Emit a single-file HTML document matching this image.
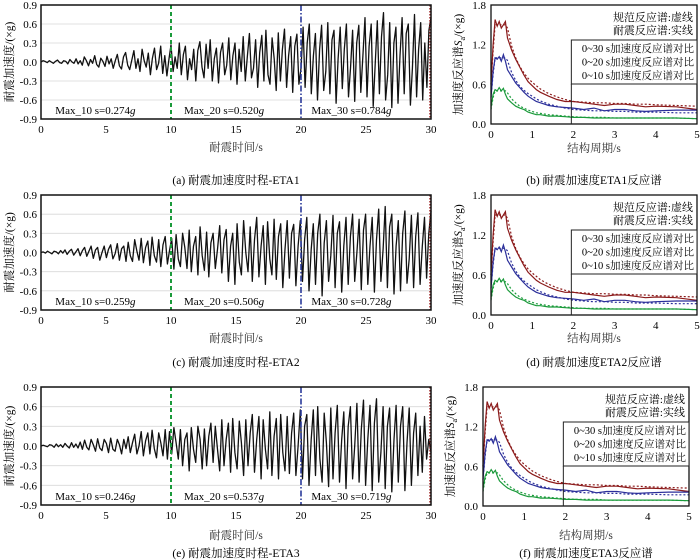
<!DOCTYPE html>
<html><head><meta charset="utf-8">
<style>
body{margin:0;background:#fff;}
svg{display:block;font-family:"Liberation Serif","Noto Serif CJK SC",serif;}
</style></head>
<body>
<svg id="fig" width="700" height="560" viewBox="0 0 700 560" xmlns="http://www.w3.org/2000/svg"></svg>
<script>
// ---------- data ----------
const timeTicks = [0,5,10,15,20,25,30];
const accTicks = [-0.9,-0.6,-0.3,0.0,0.3,0.6,0.9];
const periodTicks = [0,1,2,3,4,5];
const saTicks = [0.0,0.6,1.2,1.8];
const acc1 = [0,0.02,0.01,-0.01,0.02,0.0,-0.02,0.01,0.03,-0.01,-0.02,0.02,0.01,-0.03,0.04,0.0,-0.02,0.05,-0.03,0.02,
-0.05,0.08,0.02,-0.06,0.04,-0.02,0.1,-0.04,-0.08,0.06,0.01,-0.07,0.09,-0.03,0.05,-0.1,0.02,0.12,-0.06,-0.11,
0.08,0.15,-0.05,-0.12,0.03,0.18,-0.1,0.05,-0.15,0.2,0.02,-0.08,0.14,-0.2,0.06,0.22,-0.12,-0.02,0.25,-0.18,
0.1,-0.22,0.04,0.27,-0.15,0.08,-0.1,0.3,-0.2,0.12,0.25,-0.28,0.05,-0.12,0.2,-0.3,0.18,0.32,-0.08,-0.25,
0.28,-0.1,0.35,-0.3,0.05,0.22,-0.33,0.15,0.3,-0.2,-0.05,0.38,-0.28,0.1,0.3,-0.35,0.2,-0.15,0.4,-0.3,
0.08,0.45,-0.25,-0.1,0.35,-0.4,0.15,0.42,-0.3,0.5,-0.2,-0.35,0.38,0.05,-0.45,0.46,-0.3,0.2,0.52,-0.4,
0.1,0.4,-0.48,0.25,0.44,-0.35,-0.1,0.55,-0.4,0.3,0.6,-0.5,0.1,0.45,-0.6,0.2,0.58,-0.45,-0.15,0.62,
-0.5,0.35,0.5,-0.65,0.05,0.55,-0.42,0.2,0.6,-0.55,-0.1,0.5,-0.62,0.3,0.58,-0.48,0.1,0.7,-0.55,0.25,
0.6,-0.7,0.0,0.65,-0.5,0.4,0.78,-0.6,-0.2,0.62,-0.72,0.3,0.55,-0.65,0.1,0.7,-0.5,0.45,0.6,-0.68,
-0.1,0.75,-0.55,0.2,0.62,-0.6,0.3,-0.4,0.5,0.7];
const acc2 = [0,0.01,-0.01,0.02,0.0,-0.02,0.02,0.01,-0.02,0.03,-0.01,0.04,-0.03,0.02,0.05,-0.04,0.01,0.06,-0.05,0.03,
0.08,-0.06,0.02,0.1,-0.09,0.04,0.08,-0.12,0.0,0.1,-0.08,0.05,0.12,-0.1,-0.02,0.14,-0.12,0.06,0.1,-0.14,
0.16,-0.05,-0.14,0.2,0.02,-0.12,0.22,-0.16,0.08,0.18,-0.2,0.24,-0.05,-0.15,0.2,-0.22,0.12,0.25,-0.18,0.03,
0.22,-0.26,0.28,-0.1,-0.22,0.3,0.08,-0.25,0.35,-0.3,0.1,0.25,-0.35,0.4,-0.05,-0.28,0.32,-0.38,0.15,0.3,
-0.25,0.05,0.42,-0.32,0.2,0.36,-0.45,0.1,0.3,-0.5,0.45,-0.15,-0.35,0.5,0.0,-0.3,0.4,-0.45,0.2,0.55,
-0.38,0.1,0.42,-0.5,0.48,-0.1,-0.35,0.52,-0.42,0.25,0.45,-0.55,0.05,0.5,-0.4,0.3,0.44,-0.52,0.1,0.5,
-0.45,0.2,0.55,-0.6,0.05,0.45,-0.5,0.3,0.6,-0.68,0.15,0.5,-0.45,-0.05,0.58,-0.55,0.3,0.48,-0.62,0.1,
0.55,-0.5,0.25,0.6,-0.45,0.0,0.52,-0.58,0.35,0.6,-0.5,0.1,0.55,-0.62,0.2,0.68,-0.45,0.05,0.72,-0.55,
0.4,0.6,-0.65,0.1,0.5,-0.6,0.3,0.65,-0.48,-0.1,0.58,-0.55,0.25,0.62,-0.5,0.1,0.55,-0.4,0.3,0.65];
const acc3 = [0,0.01,0.0,-0.01,0.02,0.01,-0.02,0.03,-0.01,0.02,-0.02,0.04,0.0,-0.03,0.05,-0.02,0.03,-0.03,0.06,-0.05,
0.09,-0.02,-0.06,0.1,0.02,-0.08,0.11,-0.03,-0.07,0.1,0.04,-0.1,0.12,-0.05,-0.08,0.1,0.02,-0.12,0.1,-0.04,
0.14,-0.1,0.05,0.18,-0.12,0.0,0.22,-0.15,0.08,0.2,-0.12,0.24,-0.04,-0.18,0.2,0.05,-0.15,0.25,-0.2,0.22,
-0.12,0.28,0.05,-0.2,0.25,-0.3,0.1,0.2,-0.38,0.28,-0.05,-0.25,0.3,0.1,-0.35,0.26,-0.3,0.15,0.35,-0.25,
0.3,-0.05,-0.38,0.4,-0.3,0.1,0.35,-0.4,0.42,-0.1,-0.35,0.38,0.05,-0.45,0.4,-0.3,0.2,0.48,-0.4,0.1,
0.45,-0.5,0.4,-0.05,-0.35,0.52,-0.45,0.15,0.42,-0.5,0.48,-0.1,-0.38,0.45,-0.42,0.2,0.5,-0.45,0.0,0.55,
-0.5,0.3,0.48,-0.6,0.1,0.55,-0.45,0.6,-0.2,-0.55,0.5,0.05,-0.62,0.58,-0.5,0.2,0.62,-0.55,0.1,0.52,
-0.65,0.3,0.6,-0.5,0.0,0.65,-0.55,0.25,0.7,-0.6,0.1,0.62,-0.68,0.35,0.72,-0.55,-0.1,0.6,-0.65,0.3,
0.58,-0.7,0.1,0.62,-0.55,0.3,0.6,-0.68,0.05,0.58,-0.6,0.2,0.5,-0.45,0.3,-0.4,0.45,-0.2,0.1,-0.1];
const periods = [0,0.05,0.1,0.15,0.2,0.25,0.3,0.35,0.4,0.5,0.6,0.7,0.8,0.9,1.0,1.1,1.2,1.4,1.6,1.8,2.0,2.25,2.5,2.75,3.0,3.25,3.5,3.75,4.0,4.5,5.0];
const sa30 = [0.6,1.2,1.58,1.48,1.55,1.45,1.5,1.55,1.3,1.12,0.98,0.86,0.74,0.64,0.58,0.52,0.48,0.42,0.37,0.34,0.34,0.32,0.3,0.28,0.3,0.3,0.28,0.26,0.27,0.26,0.22];
const sa20 = [0.4,0.8,1.0,0.98,1.02,0.95,1.05,0.95,0.82,0.72,0.62,0.55,0.48,0.42,0.38,0.34,0.32,0.28,0.26,0.25,0.24,0.22,0.24,0.2,0.22,0.22,0.2,0.19,0.2,0.21,0.21];
const sa10 = [0.25,0.45,0.52,0.5,0.55,0.5,0.54,0.45,0.38,0.32,0.27,0.24,0.22,0.18,0.16,0.14,0.14,0.12,0.12,0.11,0.1,0.1,0.09,0.09,0.09,0.09,0.09,0.09,0.09,0.09,0.08];
const code30 = [0.6,1.1,1.5,1.5,1.5,1.5,1.5,1.5,1.45,1.18,1.0,0.87,0.77,0.69,0.63,0.58,0.53,0.46,0.41,0.37,0.34,0.33,0.32,0.32,0.31,0.31,0.3,0.3,0.29,0.28,0.27];
const code20 = [0.4,0.75,1.0,1.0,1.0,1.0,1.0,1.0,0.96,0.78,0.66,0.57,0.51,0.46,0.42,0.38,0.35,0.3,0.27,0.24,0.22,0.21,0.2,0.2,0.19,0.19,0.18,0.18,0.18,0.17,0.17];
const code10 = [0.22,0.4,0.5,0.5,0.5,0.5,0.5,0.5,0.47,0.38,0.32,0.27,0.24,0.21,0.19,0.17,0.16,0.14,0.13,0.12,0.11,0.1,0.1,0.1,0.09,0.09,0.09,0.09,0.09,0.09,0.08];
const maxLabels = [["0.274","0.520","0.784"],["0.259","0.506","0.728"],["0.246","0.537","0.719"]];
const captionsLeft = ["(a) 耐震加速度时程-ETA1","(c) 耐震加速度时程-ETA2","(e) 耐震加速度时程-ETA3"];
const captionsRight = ["(b) 耐震加速度ETA1反应谱","(d) 耐震加速度ETA2反应谱","(f) 耐震加速度ETA3反应谱"];
const accSeries = [acc1,acc2,acc3];

// ---------- drawing ----------
const NS="http://www.w3.org/2000/svg";
const svg=document.getElementById('fig');
function mk(tag,attrs,parent,text){const e=document.createElementNS(NS,tag);for(const k in attrs)e.setAttribute(k,attrs[k]);if(text!==undefined)e.textContent=text;(parent||svg).appendChild(e);return e;}

const leftRows=[{t:5,b:119,xl:147,cap:180},{t:195,b:310,xl:338,cap:362},{t:387,b:505,xl:535,cap:553}];
const rightRows=[{l:491,r:697,t:5,b:124,xl:148,cap:180},{l:491,r:697,t:195,b:315,xl:338,cap:362},{l:483,r:689,t:387,b:506,xl:535,cap:553}];

leftRows.forEach((R,ri)=>{
  const g=mk('g',{});
  
  
  const L=41,Rr=431;
  const x=t=>L+(t/30)*(Rr-L);
  const y=v=>R.t+(0.9-v)/1.8*(R.b-R.t);
  accTicks.forEach(v=>{
    if(Math.abs(v)<0.89){const gl=mk('line',{x1:L,x2:Rr,y1:y(v),y2:y(v),stroke:'#d8d8d8','stroke-width':0.8},g);}
    const tl=mk('text',{x:L-4,y:y(v)+4,'text-anchor':'end','font-size':11},g,v.toFixed(1));
    
  });
  timeTicks.forEach(v=>{
    const tl=mk('text',{x:x(v),y:R.b+14,'text-anchor':'middle','font-size':11},g,String(v));
    
  });
  const d=accSeries[ri];
  const pts=d.map((v,i)=>x(i*30/(d.length-1)).toFixed(1)+','+y(v).toFixed(1)).join(' ');
  const pl=mk('polyline',{points:pts,fill:'none',stroke:'#111','stroke-width':1.3,'stroke-linejoin':'round'},g);
  
  const v1=mk('line',{x1:x(10),x2:x(10),y1:R.t,y2:R.b,stroke:'#1a9a3a','stroke-width':2,'stroke-dasharray':'4,3'},g);
  
  const v2=mk('line',{x1:x(20),x2:x(20),y1:R.t,y2:R.b,stroke:'#2a3a9a','stroke-width':1.6,'stroke-dasharray':'6,2,1.5,2'},g);
  
  const v3=mk('line',{x1:x(30)-1,x2:x(30)-1,y1:R.t,y2:R.b,stroke:'#9a1a1a','stroke-width':1.4,'stroke-dasharray':'1.5,1.5'},g);
  
  const fr=mk('rect',{x:L,y:R.t,width:Rr-L,height:R.b-R.t,fill:'none',stroke:'#111','stroke-width':1.5},g);
  
  [[1.1,'10'],[11,'20'],[20.8,'30']].forEach((p,k)=>{
    const tx=mk('text',{x:x(p[0]),y:R.b-5,'font-size':11},g);
    
    tx.textContent='Max_'+p[1]+' s='+maxLabels[ri][k];
    mk('tspan',{'font-style':'italic'},tx,'g');
  });
  const yl=mk('text',{x:0,y:0,'font-size':11.5,'text-anchor':'middle',transform:`translate(13,${(R.t+R.b)/2}) rotate(-90)`},g,'耐震加速度/(×g)');
  
  const xl=mk('text',{x:(L+Rr)/2,y:R.xl+4,'text-anchor':'middle','font-size':11.5,fill:'#333'},g,'耐震时间/s');
  
  const cp=mk('text',{x:(L+Rr)/2,y:R.cap+4,'text-anchor':'middle','font-size':11.5},g,captionsLeft[ri]);
  
});

rightRows.forEach((R,ri)=>{
  const g=mk('g',{});
  
  
  const x=t=>R.l+(t/5)*(R.r-R.l);
  const y=v=>R.b-(v/1.8)*(R.b-R.t);
  saTicks.forEach(v=>{
    const tl=mk('text',{x:R.l-5,y:y(v)+4,'text-anchor':'end','font-size':11},g,v.toFixed(1));
    
  });
  periodTicks.forEach(v=>{
    const tl=mk('text',{x:x(v),y:R.b+14,'text-anchor':'middle','font-size':11},g,String(v));
    
  });
  const cols=['#8b1a1a','#2b2f9a','#1a9a3a'];
  const codes=[code30,code20,code10];
  const sas=[sa30,sa20,sa10];
  const names=['30s','20s','10s'];
  [0,1,2].forEach(k=>{
    const cd=codes[k].map((v,i)=>x(periods[i]).toFixed(1)+','+y(v).toFixed(1)).join(' ');
    const c=mk('polyline',{points:cd,fill:'none',stroke:cols[k],'stroke-width':1.2,'stroke-dasharray':'2,2'},g);
    
    const sd=sas[k].map((v,i)=>x(periods[i]).toFixed(1)+','+y(v).toFixed(1)).join(' ');
    const l=mk('polyline',{points:sd,fill:'none',stroke:cols[k],'stroke-width':1.2},g);
    
  });
  const fr=mk('rect',{x:R.l,y:R.t,width:R.r-R.l,height:R.b-R.t,fill:'none',stroke:'#111','stroke-width':1.3},g);
  
  const lt=R.t+5;
  const t1=mk('text',{x:R.r-4,y:lt+11,'text-anchor':'end','font-size':11},g,'规范反应谱:虚线');
  
  const t2=mk('text',{x:R.r-4,y:lt+24,'text-anchor':'end','font-size':11},g,'耐震反应谱:实线');
  
  const bx=x(1.95),by=lt+30,bh=44;
  const lb=mk('rect',{x:bx,y:by,width:R.r-bx,height:bh,fill:'#fff',stroke:'#222','stroke-width':1},g);
  
  const vl=mk('line',{x1:bx,x2:bx,y1:by+bh,y2:R.b,stroke:'#222','stroke-width':1},g);
  
  ['0~30 s加速度反应谱对比','0~20 s加速度反应谱对比','0~10 s加速度反应谱对比'].forEach((s,k)=>{
    const e=mk('text',{x:R.r-3,y:by+12+k*13.5,'text-anchor':'end','font-size':10.5},g,s);
    
  });
  const yl=mk('text',{x:0,y:0,'font-size':11.5,'text-anchor':'middle',transform:`translate(${R.l-29},${(R.t+R.b)/2}) rotate(-90)`},g);
  
  yl.textContent='加速度反应谱';
  mk('tspan',{'font-style':'italic'},yl,'S');
  mk('tspan',{'font-size':8,dy:3},yl,'a');
  mk('tspan',{dy:-3},yl,'/(×g)');
  const xl=mk('text',{x:(R.l+R.r)/2,y:R.xl+4,'text-anchor':'middle','font-size':11.5,fill:'#333'},g,'结构周期/s');
  
  const cp=mk('text',{x:(R.l+R.r)/2,y:R.cap+4,'text-anchor':'middle','font-size':11.5},g,captionsRight[ri]);
  
});
</script>
</body></html>
